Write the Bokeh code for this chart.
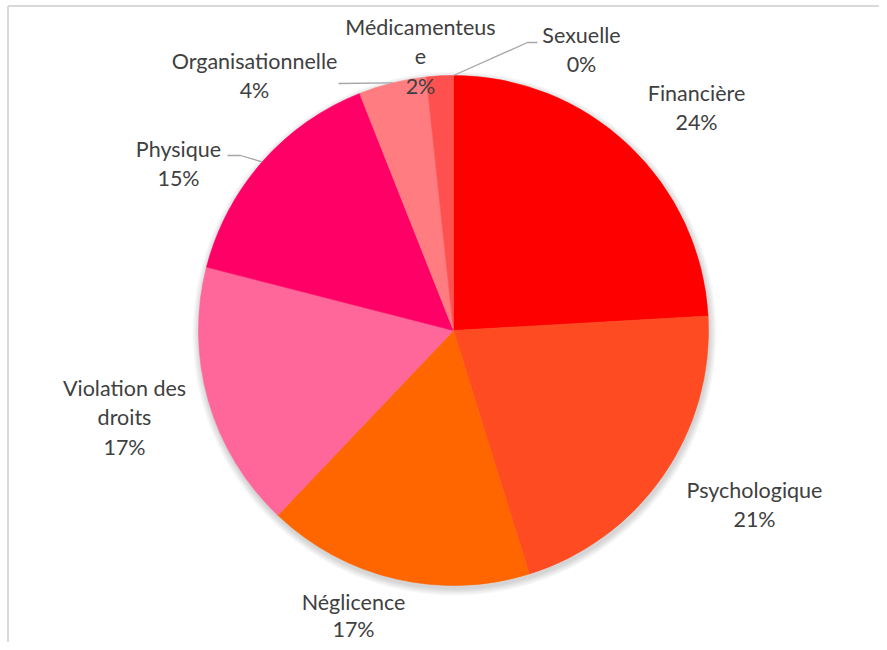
import numpy as np
from bokeh.plotting import figure
from bokeh.models import Range1d, ColumnDataSource
from bokeh.core.properties import value
from bokeh.embed import file_html
from bokeh.resources import INLINE

# ---- data ----
categories = ["Financière", "Psychologique", "Négligence", "Violation des droits",
              "Physique", "Organisationnelle", "Médicamenteuse", "Sexuelle"]
shares = [24.1, 21.1, 16.9, 16.9, 15.0, 4.3, 1.7, 0.0]
colors = ["#FF0000", "#FF4B22", "#FF6600", "#FF6699",
          "#FF0066", "#FF7C80", "#FF5050", "#C00000"]
# label text lines as wrapped in the original
label_names = [["Financière"], ["Psychologique"], ["Néglicence"], ["Violation des", "droits"],
               ["Physique"], ["Organisationnelle"], ["Médicamenteus", "e"], ["Sexuelle"]]

# ---- layout (screen pixel coordinates) ----
CX, CY, R = 453, 330, 255
label_pos = [(696, 92), (754, 489), (353, 601), (124, 387),
             (178, 148), (254, 60), (420, 26), (581, 34)]
line_gap = [29.5, 29.5, 27.5, 29.5, 29.5, 29.5, 29.5, 29.5]
leader_pts = {"Physique": [(240, 155), (227, 155)],
              "Organisationnelle": [(338, 83)],
              "Sexuelle": [(527, 42), (537, 42)]}

W, H = 879, 642


def Y(ys):
    return 650 - np.asarray(ys, dtype=float)


p = figure(width=W, height=H, x_range=Range1d(0, W), y_range=Range1d(650 - H, 650),
           output_backend="svg", toolbar_location=None, min_border=0)
p.axis.visible = False
p.grid.visible = False
p.outline_line_color = None
p.background_fill_color = "white"
p.border_fill_color = "white"

# chart area border
p.line([7.5, 900], Y([5.5, 5.5]), line_color="#D9D9D9", line_width=2)
p.line([7.5, 7.5], Y([5.5, 700]), line_color="#D9D9D9", line_width=2)

# soft shadow
for i in range(7):
    p.circle(x=CX + 1, y=float(Y(CY + 3)), radius=R + 1 + i, fill_color="black",
             fill_alpha=0.022, line_color=None)

total = sum(shares)
fr = np.array(shares) / total
cum = np.concatenate([[0], np.cumsum(fr)])
start = np.pi / 2 - cum[:-1] * 2 * np.pi
end = np.pi / 2 - cum[1:] * 2 * np.pi
mid = (cum[:-1] + cum[1:]) / 2 * 2 * np.pi  # clockwise from 12 o'clock

mask = np.array(shares) > 0
src = ColumnDataSource(dict(
    start=start[mask], end=end[mask],
    color=[c for c, m in zip(colors, mask) if m]))
p.wedge(x=CX, y=float(Y(CY)), radius=R, start_angle="start", end_angle="end",
        direction="clock", fill_color="color", line_color="color", line_width=0.6,
        source=src)

# leader lines
for k, name in enumerate(categories):
    if name in leader_pts:
        sx = CX + R * np.sin(mid[k])
        sy = CY - R * np.cos(mid[k])
        pts = [(sx, sy)] + leader_pts[name]
        p.line([q[0] for q in pts], Y([q[1] for q in pts]),
               line_color="#A6A6A6", line_width=1.3)

# labels
tx, ty, tt = [], [], []
for k, name in enumerate(categories):
    lines = label_names[k] + ["%d%%" % round(shares[k])]
    x0, y0 = label_pos[k]
    for j, t in enumerate(lines):
        tx.append(x0)
        ty.append(float(Y(y0 + j * line_gap[k])))
        tt.append(t)
p.text(x=tx, y=ty, text=tt, text_font=value("Lato"), text_font_size="21.5px",
       text_color="#404040", text_align="center", text_baseline="middle")

open("out.html", "w").write(file_html(p, INLINE))
